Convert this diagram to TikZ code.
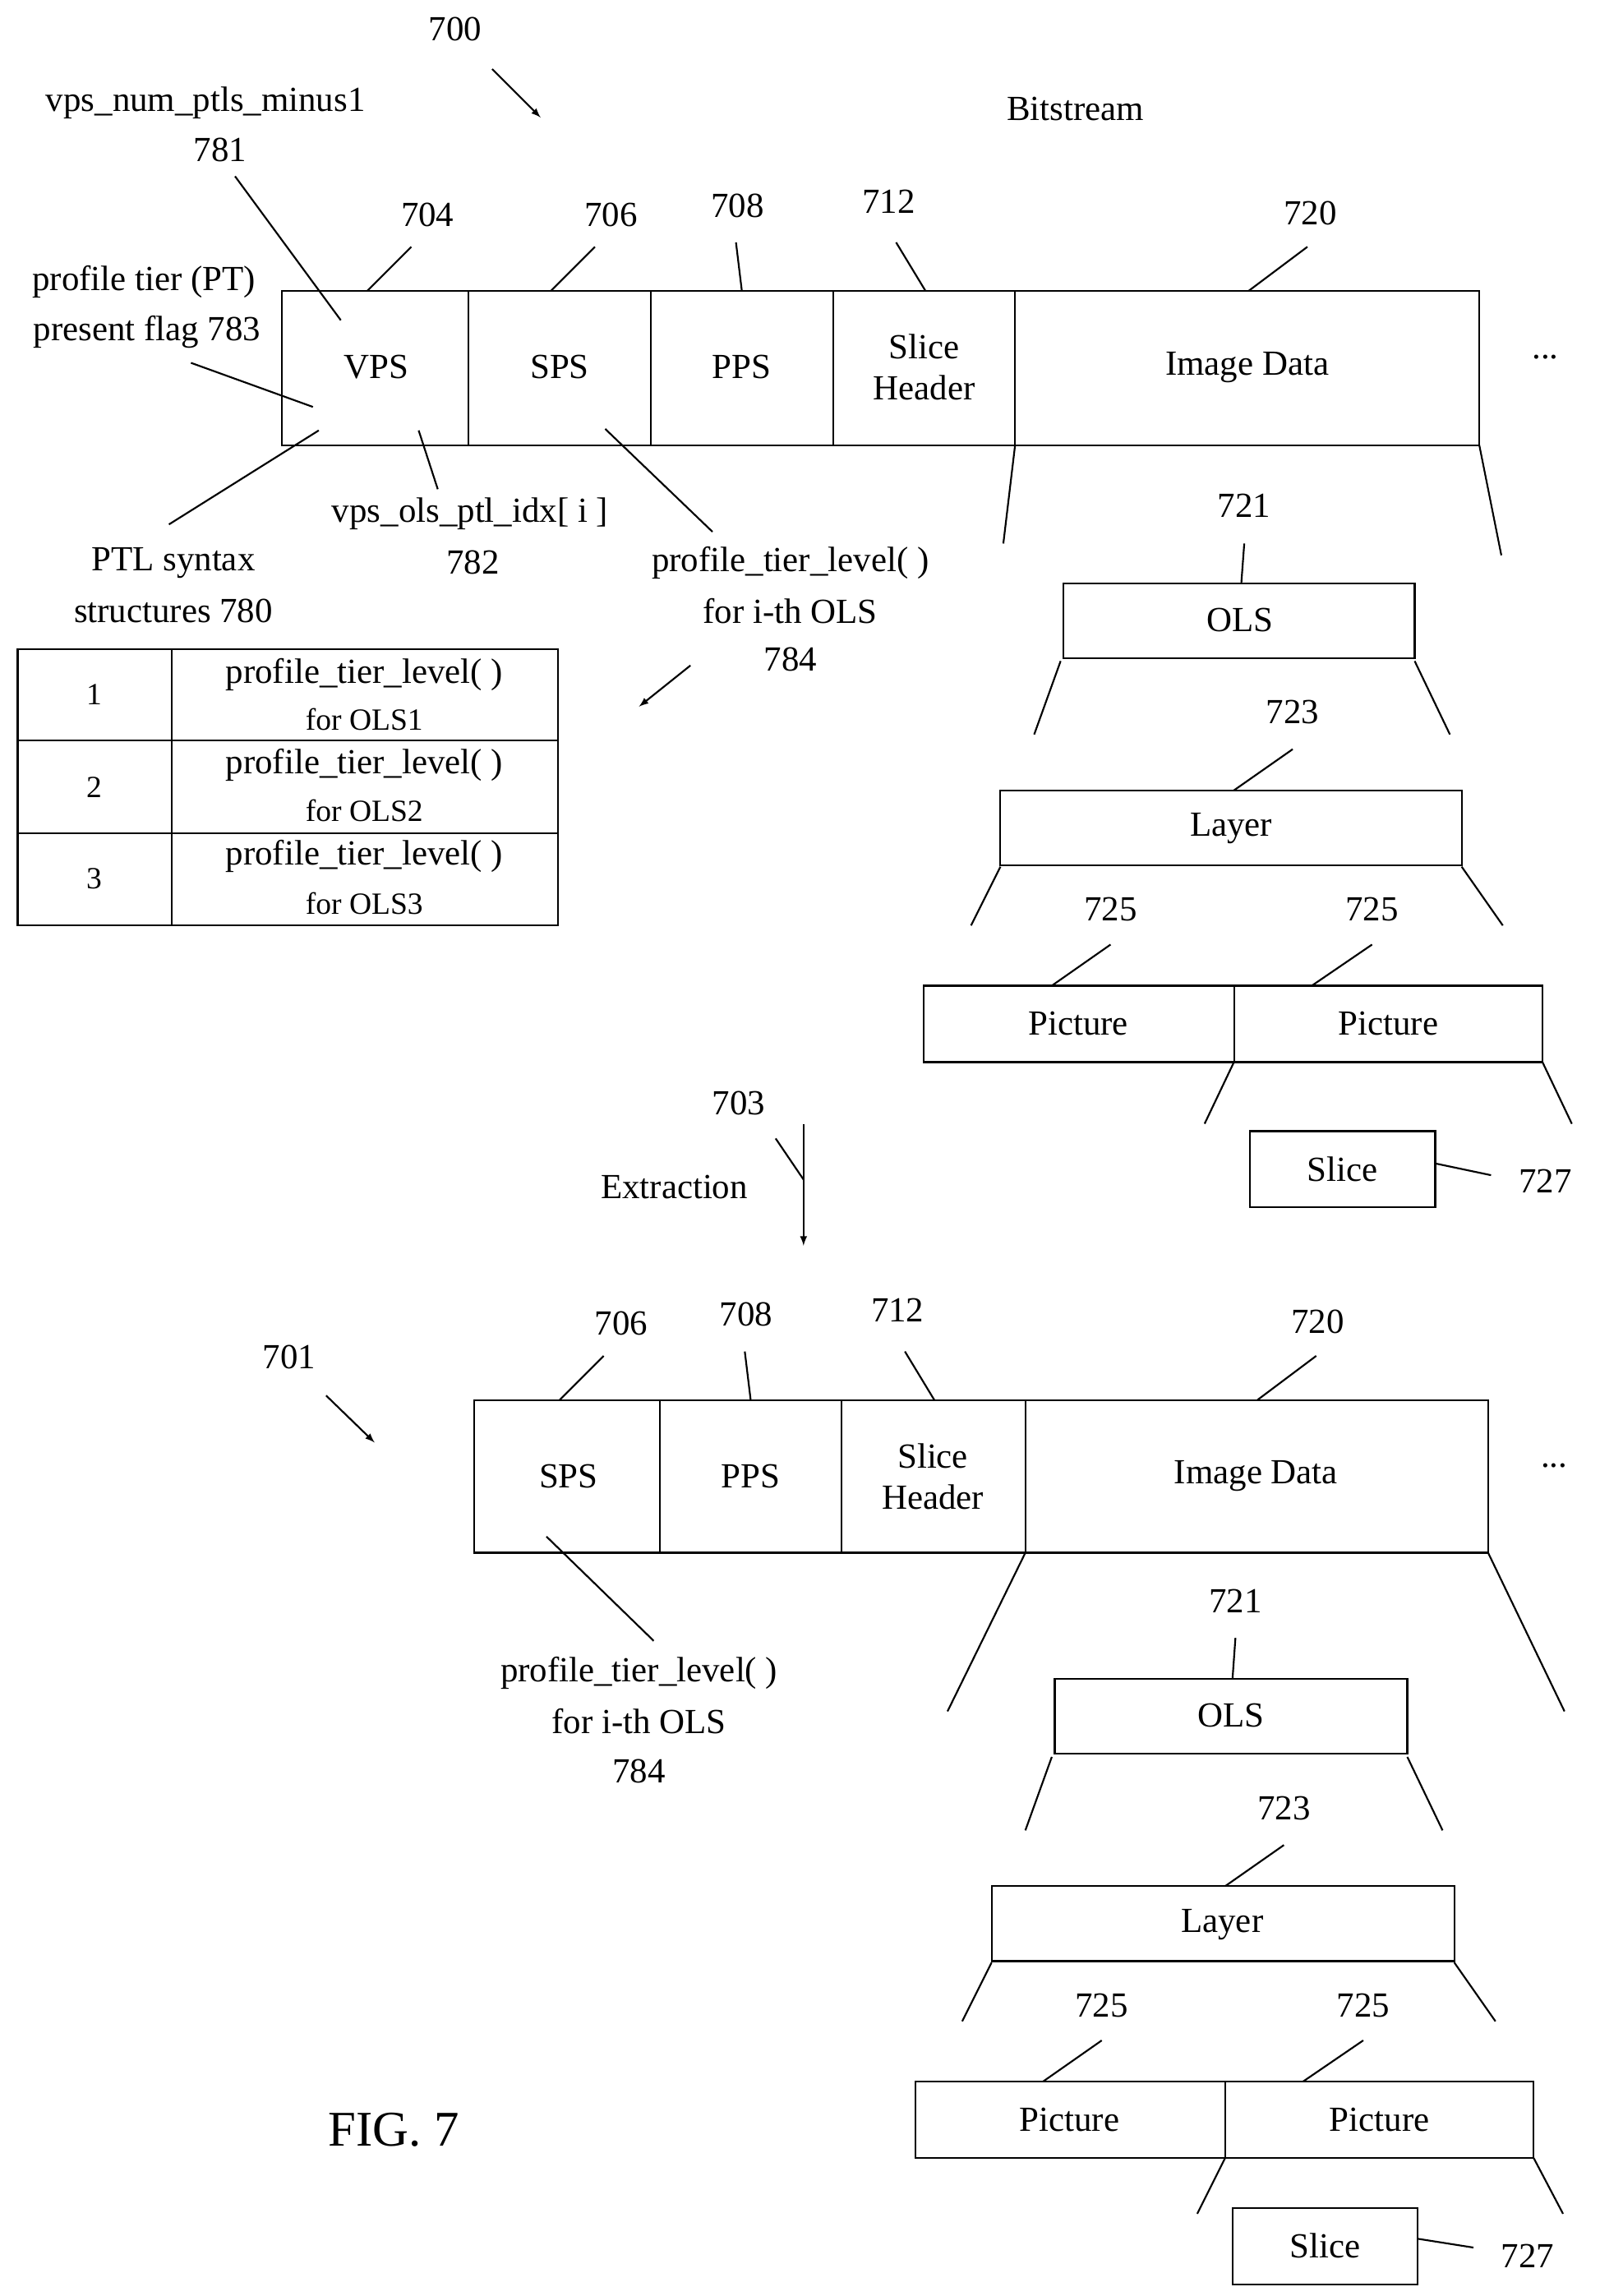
\documentclass[tikz,border=0pt]{standalone}
\usepackage{fontspec}
\setmainfont{Liberation Serif}
\begin{document}
\begin{tikzpicture}[x=1pt,y=-1pt,
  lbl/.style={inner sep=0pt,font=\fontsize{24}{28}\selectfont,align=center},
  sm/.style={inner sep=0pt,font=\fontsize{21}{24}\selectfont,align=center},
  bx/.style={draw,line width=1.2pt},
  ln/.style={line width=1.2pt},
  arr/.style={line width=1.2pt,-latex}]
\useasboundingbox (0,0) rectangle (1089,1563);
% ---------- top bitstream
\node[lbl] (t700) at (310,20) {700};
\draw[arr] (335,47) -- (368,80);
\node[lbl] (bs) at (732,74) {Bitstream};
\draw[bx] (192,198) rectangle (1007,303);
\foreach \x in {319,443,567,691} \draw[ln] (\x,198) -- (\x,303);
\node[lbl] at (256,250) {VPS};
\node[lbl] at (381,250) {SPS};
\node[lbl] at (505,250) {PPS};
\node[lbl] at (629,250) {Slice\\Header};
\node[lbl] at (849,250) {Image Data};
\node[lbl] at (1052,243) {...};
\node[lbl] at (140,70) {vps\_num\_ptls\_minus1};
\node[lbl] at (150,102) {781};
\draw[ln] (160,120) -- (232,218);
\node[lbl] at (291,146) {704}; \draw[ln] (280,168) -- (250,198);
\node[lbl] at (416,146) {706}; \draw[ln] (405,168) -- (375,198);
\node[lbl] at (502,140) {708}; \draw[ln] (501,165) -- (505,198);
\node[lbl] at (605,137) {712}; \draw[ln] (610,165) -- (630,198);
\node[lbl] at (892,145) {720}; \draw[ln] (890,168) -- (850,198);
\node[lbl] at (98,192) {profile tier (PT)};
\node[lbl] at (100,226) {present flag 783};
\draw[ln] (130,247) -- (213,277);
\draw[ln] (115,357) -- (217,293);
\node[lbl] at (118,383) {PTL syntax};
\node[lbl] at (118,416) {structures 780};
\draw[ln] (285,293) -- (298,333);
\node[lbl] at (320,350) {vps\_ols\_ptl\_idx[ i ]};
\node[lbl] at (322,383) {782};
\draw[ln] (412,292) -- (485,362);
\node[lbl] at (538,383) {profile\_tier\_level( )};
\node[lbl] at (538,416) {for i-th OLS};
\node[lbl] at (538,449) {784};
\draw[arr] (470,453) -- (435,481);
% table
\draw[bx] (12,442) rectangle (380,630);
\draw[ln] (12,504) -- (380,504); \draw[ln] (12,567) -- (380,567); \draw[ln] (117,442) -- (117,630);
\node[sm] at (64,473) {1};
\node[sm] at (64,536) {2};
\node[sm] at (64,598) {3};
\node[lbl] at (248,459) {profile\_tier\_level( )}; \node[sm] at (248,490) {for OLS1};
\node[lbl] at (248,521) {profile\_tier\_level( )}; \node[sm] at (248,552) {for OLS2};
\node[lbl] at (248,583) {profile\_tier\_level( )}; \node[sm] at (248,615) {for OLS3};
% hierarchy (top)
\draw[ln] (691,303) -- (683,370);
\draw[ln] (1007,303) -- (1022,378);
\node[lbl] at (847,344) {721}; \draw[ln] (847,370) -- (845,397);
\draw[bx] (724,397) rectangle (963,448); \node[lbl] at (844,422) {OLS};
\draw[ln] (722,450) -- (704,500); \draw[ln] (963,450) -- (987,500);
\node[lbl] at (880,485) {723}; \draw[ln] (880,510) -- (840,538);
\draw[bx] (681,538) rectangle (995,589); \node[lbl] at (838,564) {Layer};
\draw[ln] (681,590) -- (661,630); \draw[ln] (995,590) -- (1023,630);
\node[lbl] at (756,619) {725}; \draw[ln] (756,643) -- (716,671);
\node[lbl] at (934,619) {725}; \draw[ln] (934,643) -- (893,671);
\draw[bx] (629,671) rectangle (1050,723); \draw[ln] (840,671) -- (840,723);
\node[lbl] at (734,697) {Picture}; \node[lbl] at (945,697) {Picture};
\draw[ln] (840,723) -- (820,765); \draw[ln] (1050,723) -- (1070,765);
\draw[bx] (851,770) rectangle (977,822); \node[lbl] at (914,796) {Slice};
\draw[ln] (977,792) -- (1015,800); \node[lbl] at (1052,804) {727};
% extraction
\node[lbl] at (503,751) {703};
\node[lbl] at (459,808) {Extraction};
\draw[arr] (547,765) -- (547,848);
\draw[ln] (528,775) -- (547,803);
% ---------- bottom
\node[lbl] at (197,924) {701};
\draw[arr] (222,950) -- (255,982);
\draw[bx] (323,953) rectangle (1013,1057);
\foreach \x in {449,573,698} \draw[ln] (\x,953) -- (\x,1057);
\node[lbl] at (387,1005) {SPS};
\node[lbl] at (511,1005) {PPS};
\node[lbl] at (635,1005) {Slice\\Header};
\node[lbl] at (855,1005) {Image Data};
\node[lbl] at (1058,998) {...};
\node[lbl] at (423,901) {706}; \draw[ln] (411,923) -- (381,953);
\node[lbl] at (508,895) {708}; \draw[ln] (507,920) -- (511,953);
\node[lbl] at (611,892) {712}; \draw[ln] (616,920) -- (636,953);
\node[lbl] at (897,900) {720}; \draw[ln] (896,923) -- (856,953);
\draw[ln] (372,1046) -- (445,1117);
\node[lbl] at (435,1139) {profile\_tier\_level( )};
\node[lbl] at (435,1172) {for i-th OLS};
\node[lbl] at (435,1206) {784};
\draw[ln] (698,1057) -- (645,1165);
\draw[ln] (1013,1057) -- (1065,1165);
\node[lbl] at (841,1090) {721}; \draw[ln] (841,1115) -- (839,1143);
\draw[bx] (718,1143) rectangle (958,1194); \node[lbl] at (838,1168) {OLS};
\draw[ln] (716,1196) -- (698,1246); \draw[ln] (958,1196) -- (982,1246);
\node[lbl] at (874,1231) {723}; \draw[ln] (874,1256) -- (834,1284);
\draw[bx] (675,1284) rectangle (990,1335); \node[lbl] at (832,1310) {Layer};
\draw[ln] (675,1336) -- (655,1376); \draw[ln] (990,1336) -- (1018,1376);
\node[lbl] at (750,1365) {725}; \draw[ln] (750,1389) -- (710,1417);
\node[lbl] at (928,1365) {725}; \draw[ln] (928,1389) -- (887,1417);
\draw[bx] (623,1417) rectangle (1044,1469); \draw[ln] (834,1417) -- (834,1469);
\node[lbl] at (728,1443) {Picture}; \node[lbl] at (939,1443) {Picture};
\draw[ln] (834,1469) -- (815,1507); \draw[ln] (1044,1469) -- (1064,1507);
\draw[bx] (839,1503) rectangle (965,1555); \node[lbl] at (902,1529) {Slice};
\draw[ln] (965,1524) -- (1003,1530); \node[lbl] at (1040,1536) {727};
\node[inner sep=0pt,font=\fontsize{34}{40}\selectfont] at (268,1450) {FIG. 7};
\end{tikzpicture}
\end{document}
